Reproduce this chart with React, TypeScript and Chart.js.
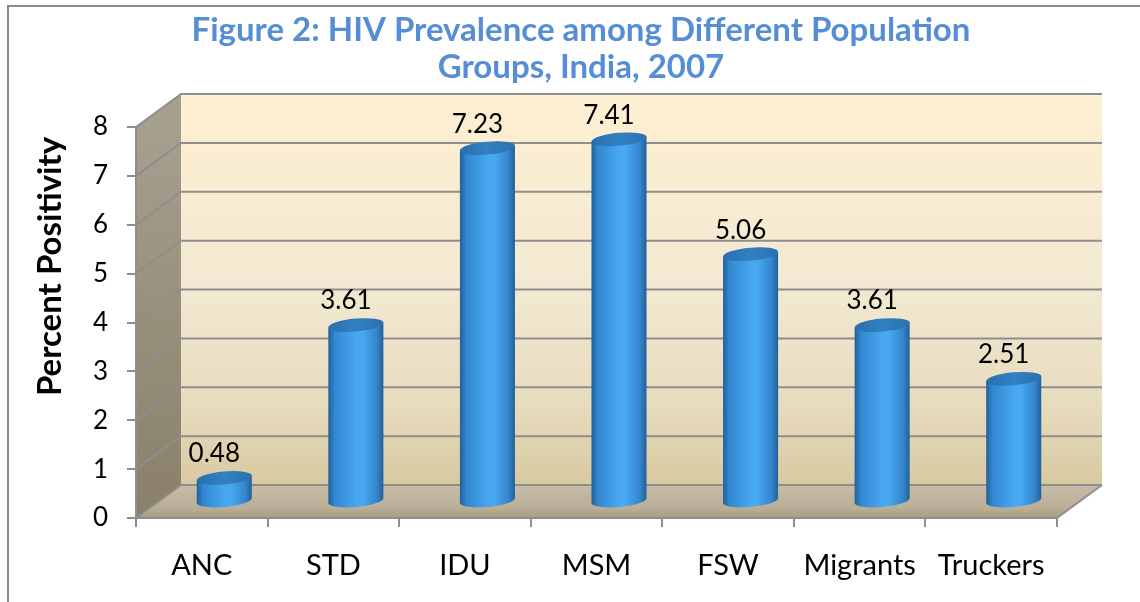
import React, { useEffect, useRef } from 'react';
import { Chart, registerables } from 'chart.js';

Chart.register(...registerables);

// ---- data ----
const categories = ['ANC', 'STD', 'IDU', 'MSM', 'FSW', 'Migrants', 'Truckers'];
const prevalence = [0.48, 3.61, 7.23, 7.41, 5.06, 3.61, 2.51];
const yTicks = [0, 1, 2, 3, 4, 5, 6, 7, 8];
const chartTitle = ['Figure 2: HIV Prevalence among Different Population', 'Groups, India, 2007'];
const yAxisTitle = 'Percent Positivity';

// ---- 3D look ----
const DX = 45;
const DY = -33;
const GRID = '#8e8e8e';
const PAD_LEFT = 105;
const AXIS_LEFT = 136;

const walls3d = {
  id: 'walls3d',
  beforeDraw(chart: any) {
    const { ctx, chartArea } = chart;
    const { left, right, top, bottom } = chartArea;
    const y = chart.scales.y;
    ctx.save();

    // outer frame (top and left visible)
    ctx.strokeStyle = '#8a8a8a';
    ctx.lineWidth = 2;
    ctx.beginPath();
    ctx.moveTo(8, chart.height + 10);
    ctx.lineTo(8, 6);
    ctx.lineTo(chart.width + 10, 6);
    ctx.stroke();

    // back wall
    const bg = ctx.createLinearGradient(0, top + DY, 0, bottom + DY);
    bg.addColorStop(0, '#fdefd1');
    bg.addColorStop(0.5, '#f3e9d2');
    bg.addColorStop(0.8, '#e6dbbd');
    bg.addColorStop(1, '#d8c9a1');
    ctx.fillStyle = bg;
    ctx.fillRect(left + DX, top + DY, right - left, bottom - top);

    // left wall
    const lg = ctx.createLinearGradient(0, top, 0, bottom);
    lg.addColorStop(0, '#a59f8e');
    lg.addColorStop(1, '#8a8068');
    ctx.fillStyle = lg;
    ctx.beginPath();
    ctx.moveTo(left, top);
    ctx.lineTo(left + DX, top + DY);
    ctx.lineTo(left + DX, bottom + DY);
    ctx.lineTo(left, bottom);
    ctx.closePath();
    ctx.fill();

    // floor
    const fg = ctx.createLinearGradient(0, bottom + DY, 0, bottom);
    fg.addColorStop(0, '#c7bea8');
    fg.addColorStop(0.7, '#b9ae96');
    fg.addColorStop(1, '#a99c81');
    ctx.fillStyle = fg;
    ctx.beginPath();
    ctx.moveTo(left, bottom);
    ctx.lineTo(left + DX, bottom + DY);
    ctx.lineTo(right + DX, bottom + DY);
    ctx.lineTo(right, bottom);
    ctx.closePath();
    ctx.fill();

    // gridlines on back & side walls
    ctx.strokeStyle = GRID;
    ctx.lineWidth = 2;
    yTicks.forEach((v) => {
      const py = y.getPixelForValue(v);
      ctx.beginPath();
      ctx.moveTo(left, py);
      ctx.lineTo(left + DX, py + DY);
      ctx.lineTo(right + DX, py + DY);
      ctx.stroke();
    });
    // floor right edge
    ctx.beginPath();
    ctx.moveTo(right, bottom);
    ctx.lineTo(right + DX, bottom + DY);
    ctx.stroke();

    ctx.restore();
  },
};

function drawCylinder(ctx: CanvasRenderingContext2D, cx: number, topY: number, baseY: number, rx: number) {
  const ry = 6.5;
  const th = -0.09;
  const c = Math.cos(th);
  const s = Math.sin(th);
  const body = ctx.createLinearGradient(cx - rx, 0, cx + rx, 0);
  body.addColorStop(0, '#205f9c');
  body.addColorStop(0.12, '#3388d0');
  body.addColorStop(0.5, '#47a7f0');
  body.addColorStop(0.62, '#47a9f2');
  body.addColorStop(0.88, '#3485cc');
  body.addColorStop(1, '#225f98');
  ctx.fillStyle = body;
  ctx.beginPath();
  ctx.moveTo(cx - rx * c, baseY - rx * s);
  ctx.lineTo(cx - rx * c, topY - rx * s);
  ctx.lineTo(cx + rx * c, topY + rx * s);
  ctx.lineTo(cx + rx * c, baseY + rx * s);
  ctx.ellipse(cx, baseY, rx, ry, th, 0, Math.PI, false);
  ctx.closePath();
  ctx.fill();

  const tg = ctx.createLinearGradient(cx - rx, 0, cx + rx, 0);
  tg.addColorStop(0, '#2a6fae');
  tg.addColorStop(0.5, '#3280c2');
  tg.addColorStop(1, '#2b71b0');
  ctx.fillStyle = tg;
  ctx.beginPath();
  ctx.ellipse(cx, topY, rx, ry, th, 0, Math.PI * 2);
  ctx.fill();
}

const cylinders = {
  id: 'cylinders',
  afterDatasetsDraw(chart: any) {
    const { ctx } = chart;
    const meta = chart.getDatasetMeta(0);
    const ds = chart.data.datasets[0].data as number[];
    ctx.save();
    meta.data.forEach((bar: any, i: number) => {
      const { x, y: yTop, base, width } = bar.getProps(['x', 'y', 'base', 'width'], true);
      const cx = x + DX / 2;
      const topY = yTop + DY / 2;
      const baseY = base + DY / 2;
      drawCylinder(ctx, cx, topY, baseY, width / 2);
      ctx.fillStyle = '#000';
      ctx.font = '26px Lato';
      ctx.textAlign = 'center';
      ctx.textBaseline = 'middle';
      ctx.fillText(String(ds[i]), cx - 10, topY - 24);
    });
    ctx.restore();
  },
  afterDraw(chart: any) {
    const { ctx, chartArea } = chart;
    ctx.save();
    ctx.translate(50, (chartArea.top + chartArea.bottom) / 2 - 56);
    ctx.rotate(-Math.PI / 2);
    ctx.fillStyle = '#000';
    ctx.font = 'bold 33px Lato';
    ctx.textAlign = 'center';
    ctx.textBaseline = 'middle';
    ctx.fillText(yAxisTitle, 0, 0);
    ctx.restore();
  },
};

export default function App() {
  const ref = useRef<HTMLCanvasElement>(null);
  useEffect(() => {
    document.body.style.margin = '0';
    const chart = new Chart(ref.current as HTMLCanvasElement, {
      type: 'bar',
      data: {
        labels: categories,
        datasets: [
          {
            data: prevalence,
            backgroundColor: 'rgba(0,0,0,0)',
            borderWidth: 0,
            barPercentage: 0.42,
            categoryPercentage: 1,
          },
        ],
      },
      options: {
        animation: false,
        responsive: false,
        devicePixelRatio: 1,
        layout: { padding: { left: PAD_LEFT, right: 83, top: 0, bottom: 0 } },
        font: { family: 'Lato' },
        plugins: {
          legend: { display: false },
          tooltip: { enabled: false },
          title: {
            display: true,
            text: chartTitle,
            color: '#558ed5',
            font: { family: 'Lato', size: 33, weight: 'bold', lineHeight: '37px' },
            padding: { top: 12, bottom: 41 },
          },
        },
        scales: {
          x: {
            afterFit: (scale: any) => {
              scale.height = 84;
            },
            grid: {
              drawOnChartArea: false,
              tickLength: 9,
              color: GRID,
              lineWidth: 2,
              offset: true,
            },
            border: { display: true, color: GRID, width: 2 },
            ticks: {
              color: '#000',
              font: { family: 'Lato', size: 29 },
              padding: 21,
              maxRotation: 0,
              autoSkip: false,
            },
          },
          y: {
            min: 0,
            max: 8,
            afterFit: (scale: any) => {
              scale.width = AXIS_LEFT - PAD_LEFT;
            },
            grid: {
              drawOnChartArea: false,
              tickLength: 9,
              color: GRID,
              lineWidth: 2,
            },
            border: { display: true, color: GRID, width: 2 },
            ticks: {
              stepSize: 1,
              color: '#000',
              font: { family: 'Lato', size: 26 },
              mirror: true,
              padding: -43,
            },
          },
        },
      } as any,
      plugins: [walls3d, cylinders],
    });
    return () => chart.destroy();
  }, []);
  return <canvas ref={ref} width={1140} height={602} style={{ display: 'block' }} />;
}
